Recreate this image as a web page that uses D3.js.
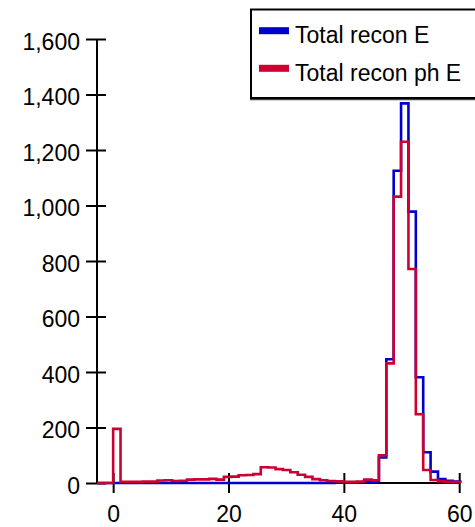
<!DOCTYPE html>
<html>
<head>
<meta charset="utf-8">
<script src="https://cdn.jsdelivr.net/npm/d3@7"></script>
<style>
  body { margin: 0; background: #fff; }
  svg { display: block; }
  text { font-family: "Liberation Sans", Arial, Helvetica, sans-serif; fill: #000; }
</style>
</head>
<body>
<svg id="chart" width="475" height="527"></svg>
<script>
// Histogram binning: uniform bins starting at binStart
const binStart = 0;
const binWidth = 1.28;

// Counts per bin for each series
const totalReconE = [
  0, 0, 0, 0, 0, 0, 0, 0, 0, 0,
  0, 0, 0, 0, 0, 0, 0, 0, 0, 0,
  0, 0, 0, 0, 0, 0, 0, 0, 0, 0,
  1, 1, 2, 2, 3, 5, 92, 446, 1125, 1368,
  978, 381, 111, 41, 14, 8, 5
];
const totalReconPhE = [
  195, 4, 4, 4, 5, 5, 9, 10, 7, 8,
  12, 13, 13, 15, 12, 22, 23, 28, 29, 32,
  57, 56, 50, 47, 39, 30, 22, 14, 10, 7,
  6, 4, 4, 5, 12, 10, 100, 431, 1032, 1230,
  771, 248, 47, 11, 6, 4, 3
];

const seriesNames = ["Total recon E", "Total recon ph E"];
const seriesColors = ["#0000cc", "#cc0033"];
const xTickValues = [0, 20, 40, 60];
const yTickValues = [0, 200, 400, 600, 800, 1000, 1200, 1400, 1600];

const svg = d3.select("#chart");
const fontSize = 23;

const x = d3.scaleLinear().domain([-2.8, 60]).range([97, 459.2]);
const y = d3.scaleLinear().domain([0, 1600]).range([483, 39]);

// ---- Y axis with ticks crossing the axis line
const yAxis = svg.append("g")
  .attr("transform", `translate(${x.range()[0]},0)`)
  .call(d3.axisLeft(y).tickValues(yTickValues).tickSize(11).tickPadding(6)
    .tickFormat(d3.format(",")));
yAxis.select(".domain").attr("d", `M0,${y(0)}V${y(1600)}`).attr("stroke", "#000").attr("stroke-width", 2);
yAxis.selectAll(".tick line").attr("x1", 9).attr("stroke", "#000").attr("stroke-width", 2);
yAxis.selectAll(".tick text")
  .attr("font-size", fontSize)
  .attr("font-family", "Liberation Sans, Arial, sans-serif")
  .attr("x", -17)
  .attr("dy", "0.45em");

// ---- X axis with ticks crossing the axis line
const xAxis = svg.append("g")
  .attr("transform", `translate(0,${y(0)})`)
  .call(d3.axisBottom(x).tickValues(xTickValues).tickSize(10).tickFormat(d3.format("d")));
xAxis.select(".domain").attr("d", `M${x.range()[0]},0H${x.range()[1]}`).attr("stroke", "#000").attr("stroke-width", 2);
xAxis.selectAll(".tick line").attr("y1", -10).attr("stroke", "#000").attr("stroke-width", 2);
xAxis.selectAll(".tick text")
  .attr("font-size", fontSize)
  .attr("font-family", "Liberation Sans, Arial, sans-serif")
  .attr("y", 39)
  .attr("dy", 0);

// ---- Histogram outlines drawn as steps
const stepLine = d3.line()
  .x(d => x(d[0]))
  .y(d => y(d[1]))
  .curve(d3.curveStepAfter);

function stepPoints(counts) {
  const pts = [[x.domain()[0], 0]];
  counts.forEach((c, i) => pts.push([binStart + i * binWidth, c]));
  pts.push([binStart + counts.length * binWidth, 0]);
  return pts;
}

[totalReconE, totalReconPhE].forEach((counts, i) => {
  svg.append("path")
    .attr("d", stepLine(stepPoints(counts)))
    .attr("fill", "none")
    .attr("stroke", seriesColors[i])
    .attr("stroke-width", 2.6)
    .attr("stroke-linejoin", "miter");
});

// ---- Legend
const legend = svg.append("g");
legend.append("line")
  .attr("x1", 250).attr("x2", 480).attr("y1", 99.5).attr("y2", 99.5)
  .attr("stroke", "#444").attr("stroke-width", 1.5);
legend.append("rect")
  .attr("x", 251).attr("y", 9.5).attr("width", 240).attr("height", 88.5)
  .attr("fill", "#fff").attr("stroke", "#000").attr("stroke-width", 2);
seriesNames.forEach((name, i) => {
  const cy = 30.7 + i * 37.6;
  legend.append("rect")
    .attr("x", 259).attr("y", cy - 3.5).attr("width", 30).attr("height", 7)
    .attr("fill", seriesColors[i]);
  legend.append("text")
    .attr("x", 295).attr("y", 42.7 + i * 38)
    .attr("font-size", fontSize)
    .text(name);
});
</script>
</body>
</html>
